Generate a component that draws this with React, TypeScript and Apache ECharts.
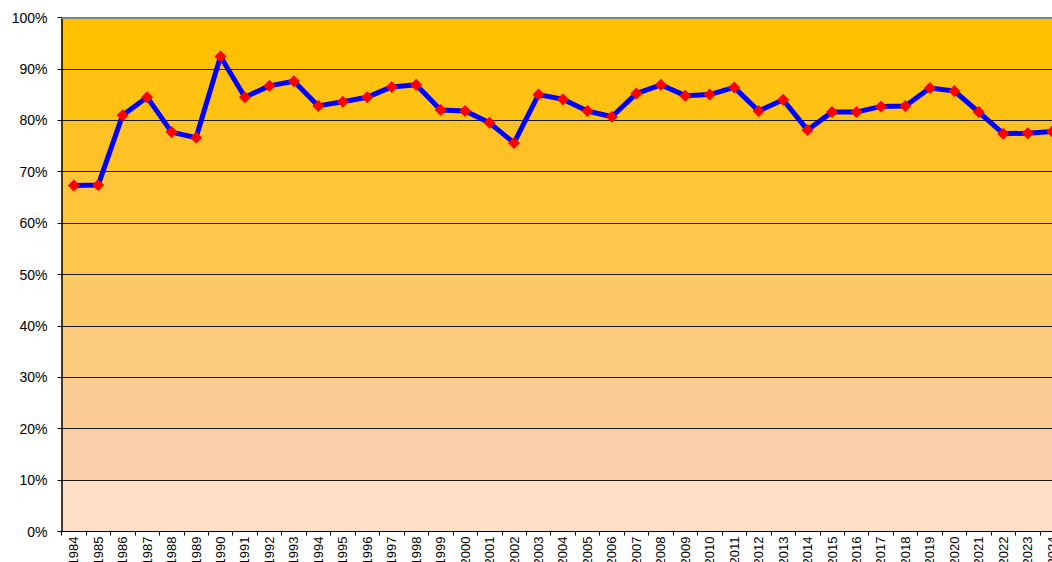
import React, { useEffect, useRef } from "react";
import * as echarts from "echarts";

const years: string[] = [
  "1984", "1985", "1986", "1987", "1988", "1989", "1990", "1991", "1992", "1993",
  "1994", "1995", "1996", "1997", "1998", "1999", "2000", "2001", "2002", "2003",
  "2004", "2005", "2006", "2007", "2008", "2009", "2010", "2011", "2012", "2013",
  "2014", "2015", "2016", "2017", "2018", "2019", "2020", "2021", "2022", "2023",
  "2024",
];

const values: number[] = [
  67.3, 67.4, 81.0, 84.5, 77.7, 76.6, 92.4, 84.5, 86.7, 87.6,
  82.8, 83.6, 84.5, 86.5, 86.9, 82.0, 81.8, 79.5, 75.6, 85.0,
  84.1, 81.8, 80.7, 85.2, 86.9, 84.8, 85.0, 86.4, 81.8, 84.0,
  78.1, 81.6, 81.6, 82.7, 82.8, 86.3, 85.7, 81.6, 77.4, 77.5,
  77.8,
];

// band colours from top (90-100%) to bottom (0-10%)
const bandColors: string[] = [
  "#FFC000", "#FFC112", "#FEC226", "#FEC43A", "#FDC64F",
  "#FCC865", "#FCCA7C", "#FBCC94", "#FBCFAA", "#FDDFC6",
];

export default function App() {
  const ref = useRef<HTMLDivElement>(null);

  useEffect(() => {
    if (!ref.current) return;
    const chart = echarts.init(ref.current, undefined, { renderer: "svg" });
    const stops: { offset: number; color: string }[] = [];
    bandColors.forEach((c, i) => {
      stops.push({ offset: i / bandColors.length, color: c });
      stops.push({ offset: (i + 1) / bandColors.length, color: c });
    });
    chart.setOption({
      animation: false,
      backgroundColor: "#FFFFFF",
      grid: {
        show: true,
        left: 61.5,
        top: 17.5,
        bottom: 30.5,
        right: -12.4,
        containLabel: false,
        outerBoundsMode: "none",
        borderWidth: 0,
        backgroundColor: new echarts.graphic.LinearGradient(0, 0, 0, 1, stops),
      },
      xAxis: {
        type: "category",
        data: years,
        boundaryGap: true,
        axisLine: { show: true, lineStyle: { color: "#000", width: 1 } },
        axisTick: { show: true, length: 4, interval: 0, lineStyle: { color: "#000" } },
        axisLabel: {
          interval: 0,
          rotate: 90,
          margin: 5,
          fontSize: 13,
          color: "#000",
          fontFamily: "Liberation Sans, Arial, sans-serif",
        },
        splitLine: { show: false },
      },
      yAxis: {
        type: "value",
        min: 0,
        max: 100,
        interval: 10,
        axisLine: { show: true, lineStyle: { color: "#000", width: 1.5 } },
        axisTick: { show: true, length: 4, lineStyle: { color: "#000" } },
        axisLabel: {
          formatter: "{value}%",
          margin: 14,
          fontSize: 14,
          color: "#000",
          fontFamily: "Liberation Sans, Arial, sans-serif",
        },
        splitLine: { show: true, lineStyle: { color: "#1a1a1a", width: 1 } },
      },
      series: [
        {
          type: "line",
          data: values,
          symbol: "diamond",
          symbolSize: 12,
          showAllSymbol: true,
          lineStyle: { color: "#0000FF", width: 5 },
          itemStyle: { color: "#FF0000", borderWidth: 0 },
          markLine: {
            silent: true,
            symbol: "none",
            label: { show: false },
            lineStyle: { color: "#808080", width: 2, type: "solid" },
            data: [{ yAxis: 100 }],
          },
          z: 3,
        },
      ],
    });
    return () => chart.dispose();
  }, []);

  return (
    <div
      ref={ref}
      style={{ position: "fixed", left: 0, top: 0, width: 1052, height: 562 }}
    />
  );
}
